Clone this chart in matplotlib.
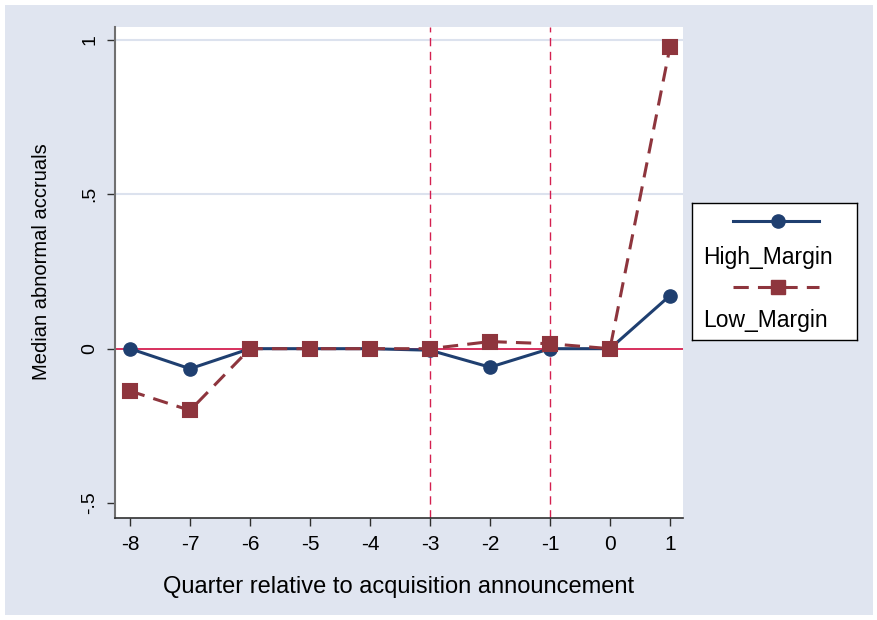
import matplotlib
matplotlib.use("Agg")
import matplotlib.pyplot as plt
from matplotlib.lines import Line2D
from matplotlib.patches import Rectangle

plt.rcParams['font.family'] = ['Liberation Sans', 'DejaVu Sans']

quarters = [-8, -7, -6, -5, -4, -3, -2, -1, 0, 1]
high_margin = [0.0, -0.065, 0.0, 0.0, 0.0, -0.005, -0.06, 0.0, 0.0, 0.172]
low_margin = [-0.137, -0.2, 0.0, 0.0, 0.0, 0.0, 0.023, 0.016, 0.0, 0.977]
x_ticks = [-8, -7, -6, -5, -4, -3, -2, -1, 0, 1]
y_ticks = [-0.5, 0, 0.5, 1]
y_tick_labels = ['-.5', '0', '.5', '1']
event_lines = [-3, -1]

navy = '#1F3F70'
maroon = '#8E353D'
crimson = '#D42050'
bg = '#E0E5F0'

W, H = 878, 620
fig = plt.figure(figsize=(W / 100, H / 100), dpi=100)
fig.patch.set_facecolor('white')
fig.patches.append(Rectangle((5 / W, 5 / H), (W - 10) / W, (H - 10) / H,
                             transform=fig.transFigure, facecolor=bg,
                             edgecolor='none', zorder=-10))

ax = fig.add_axes([115 / W, 1 - 518 / H, (683 - 115) / W, (518 - 27) / H])
ax.set_facecolor('white')
ax.set_xlim(-8.25, 1.217)
ax.set_ylim(-0.5485, 1.042)

for y in [0.5, 1]:
    ax.axhline(y, color='#DCE2EE', lw=1.5, zorder=1)
ax.axhline(0, color=crimson, lw=1.3, zorder=2)
for xv in event_lines:
    ax.axvline(xv, color=crimson, lw=1.0, ls=(0, (6, 4)), zorder=2)

ax.plot(quarters, high_margin, color=navy, lw=2.2, marker='o', ms=9.5,
        zorder=4, label='High_Margin')
ax.plot(quarters, low_margin, color=maroon, lw=2.2, ls=(0, (5, 3)), marker='s',
        ms=10, mew=1.5, zorder=5, label='Low_Margin', solid_joinstyle='round')

for s in ['top', 'right']:
    ax.spines[s].set_visible(False)
ax.spines['left'].set_color('#707070')
ax.spines['left'].set_linewidth(1.5)
ax.spines['bottom'].set_color('#303030')
ax.spines['bottom'].set_linewidth(1.2)

ax.set_xticks(x_ticks)
ax.set_xticklabels([str(v) for v in x_ticks], fontsize=15)
ax.set_yticks(y_ticks)
ax.set_yticklabels(y_tick_labels, fontsize=14, rotation=90, va='center')
ax.tick_params(axis='both', length=6, width=1, color='#303030', pad=6)
ax.set_xlabel('Quarter relative to acquisition announcement', fontsize=17, labelpad=16)
ax.set_ylabel('Median abnormal accruals', fontsize=14.5)
ax.yaxis.set_label_coords(-0.112, 0.522)

# legend box
lax = fig.add_axes([692 / W, 1 - 340 / H, (857 - 692) / W, (340 - 203) / H])
lax.set_xlim(0, 1)
lax.set_ylim(0, 1)
lax.set_xticks([])
lax.set_yticks([])
lax.set_facecolor('white')
for s in lax.spines.values():
    s.set_color('black')
    s.set_linewidth(1)
lax.add_line(Line2D([0.25, 0.77], [0.87, 0.87], color=navy, lw=2.2))
lax.add_line(Line2D([0.52], [0.87], color=navy, marker='o', ms=9.5))
lax.text(0.065, 0.6, 'High_Margin', fontsize=16.5, va='center', ha='left')
lax.add_line(Line2D([0.25, 0.77], [0.39, 0.39], color=maroon, lw=2.2, ls=(0, (5, 3))))
lax.add_line(Line2D([0.52], [0.39], color=maroon, marker='s', ms=10))
lax.text(0.065, 0.14, 'Low_Margin', fontsize=16.5, va='center', ha='left')

fig.savefig('out.png', dpi=100, facecolor=fig.get_facecolor())
